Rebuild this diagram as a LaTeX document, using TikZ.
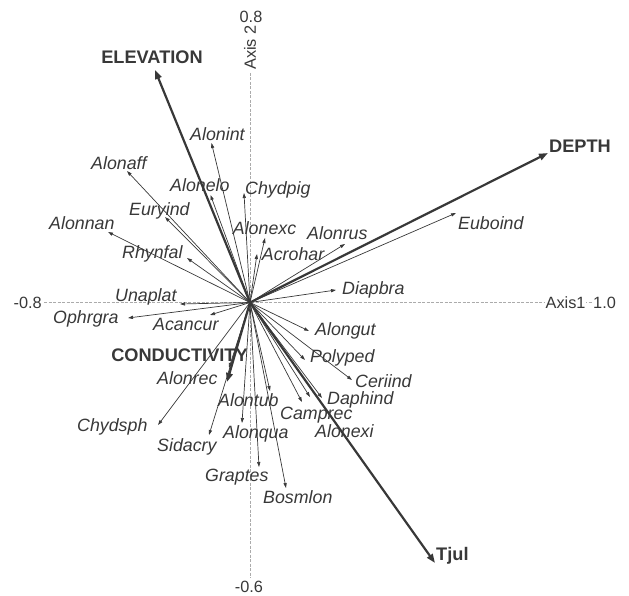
\documentclass[tikz,border=0pt]{standalone}
\usepackage{fontspec}
\setmainfont{Liberation Sans}
\usetikzlibrary{arrows.meta}
\definecolor{ink}{HTML}{383838}
\definecolor{axisgray}{HTML}{ABABAB}
\begin{document}
\begin{tikzpicture}[x=1pt,y=-1pt,
  sp/.style={font=\fontsize{17.8}{20}\selectfont\itshape, text=ink, inner sep=0pt, anchor=base west},
  env/.style={font=\fontsize{18.2}{21}\selectfont\bfseries, text=ink, inner sep=0pt},
  axlab/.style={font=\fontsize{16.3}{18}\selectfont, text=ink, inner sep=0pt},
  thinarrow/.style={draw=ink, line width=0.7pt, -{Triangle[length=5pt,width=3.2pt]}},
  thickarrow/.style={draw=ink, line width=2.2pt, -{Triangle[length=9pt,width=6.5pt]}},
  axisline/.style={draw=axisgray, dash pattern=on 3pt off 1.5pt, line width=0.8pt}]
\useasboundingbox (0,0) rectangle (629,596);

% axes
\coordinate (O) at (250,302.5);
\node[axlab, anchor=east] (xmin) at (42,303) {-0.8};
\node[axlab, anchor=west] (xmax) at (593,303) {1.0};
\node[axlab] (ymax) at (251,17) {0.8};
\node[axlab] (ymin) at (249,587) {-0.6};
\coordinate (xl) at (44,302.5);
\coordinate (xr) at (592,302.5);
\coordinate (yt) at (250,73);
\coordinate (yb) at (250,578);
\draw[axisline] (xl) -- (xr);
\draw[axisline] (yt) -- (yb);
\node[axlab, anchor=west, fill=white, inner sep=0.5pt] (ax1) at (545,303) {Axis1};
\node[axlab, rotate=90, fill=white, inner sep=0.5pt] (ax2) at (250,47.5) {Axis 2};

% species arrows and labels
\foreach \n/\lx/\ly/\tx/\ty in {
  Alonint/190/134/211.5/143,
  Alonaff/91/163/127/171,
  Alonelo/170/185/210.5/195,
  Chydpig/245/188/244/193,
  Alonexc/232.7/228/265/238,
  Acrohar/261.7/254/257/254,
  Alonrus/307/233/345/244,
  Euboind/458/223/456/213,
  Diapbra/342/288/336/290,
  Alongut/315/329/309/331,
  Polyped/310/356/305/360,
  Ceriind/355/381/352/380,
  Daphind/327/398/322/398,
  Camprec/280/413/302/402,
  Alonexi/315/431/310/397,
  Alontub/218/400/270/391,
  Alonqua/223/432/242/423,
  Sidacry/157/445/209/435,
  Graptes/205/475/259/467,
  Bosmlon/263/497/286/488,
  Chydsph/77/425/158/425,
  Alonrec/157/378/229/368,
  Acancur/153/324/210/315,
  Ophrgra/53/317/128/318,
  Unaplat/115/295/180/304,
  Rhynfal/122/252/187/258,
  Alonnan/49/223/108/232,
  Euryind/129/209/165/217}
{
  \coordinate (t-\n) at (\tx,\ty);
  \draw[thinarrow] (O) -- (t-\n);
  \node[sp] (l-\n) at (\lx,\ly+6.5) {\n};
}

% environmental vectors
\coordinate (t-elev) at (155,70);
\coordinate (t-depth) at (548,153);
\coordinate (t-tjul) at (435,563);
\coordinate (t-cond) at (227,382);
\draw[thickarrow] (O) -- (t-elev);
\draw[thickarrow] (O) -- (t-depth);
\draw[thickarrow] (O) -- (t-tjul);
\draw[thickarrow] (O) -- (t-cond);
\node[env] (elev) at (152,57) {ELEVATION};
\node[env, anchor=west] (depth) at (549,146) {DEPTH};
\node[env, anchor=base west] (tjul) at (436,560) {Tjul};
\node[env] (cond) at (179.5,355) {CONDUCTIVITY};
\end{tikzpicture}
\end{document}
